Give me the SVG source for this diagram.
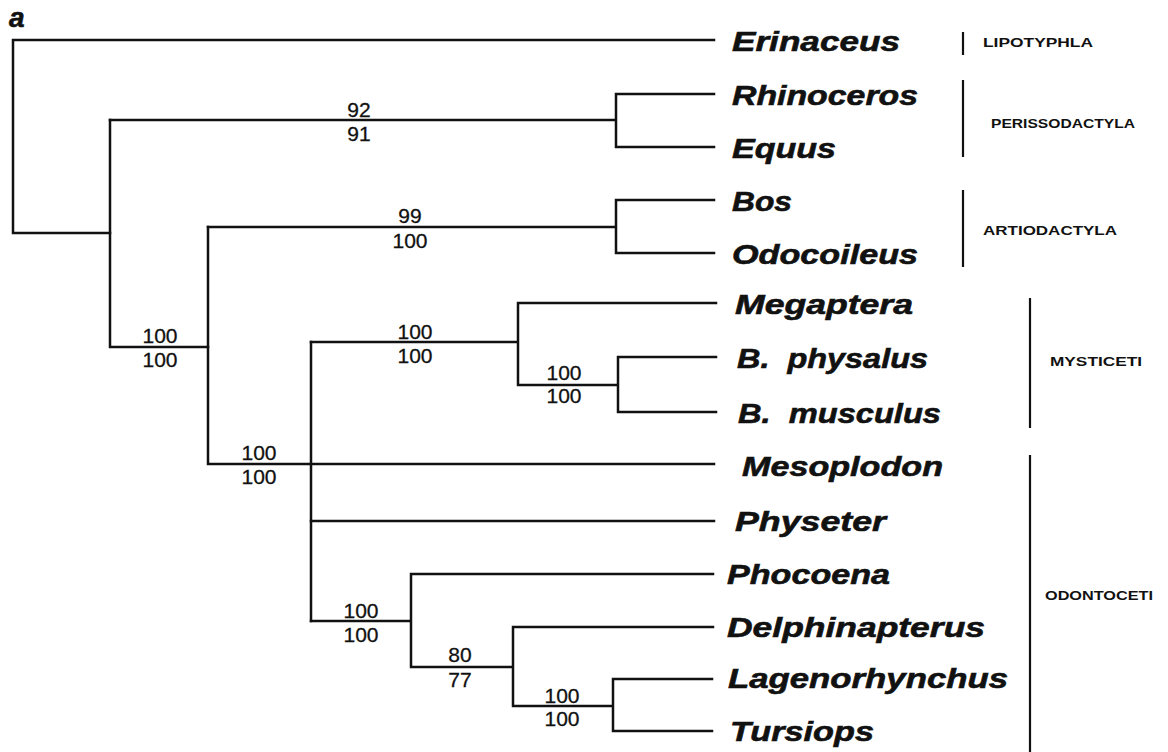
<svg xmlns="http://www.w3.org/2000/svg" width="1168" height="752" viewBox="0 0 1168 752">
<style>
.br{stroke:#111;stroke-width:2.5;fill:none;stroke-linecap:square}
.bar{stroke:#111;stroke-width:2.2;fill:none}
.leaf{font-family:"Liberation Sans",Arial,sans-serif;font-weight:bold;font-style:italic;font-size:28px;fill:#111;stroke:#111;stroke-width:0.6}
.sup{font-family:"Liberation Sans",Arial,sans-serif;font-size:21px;fill:#111;text-anchor:middle;stroke:#111;stroke-width:0.3}
.clade{font-family:"Liberation Sans",Arial,sans-serif;font-weight:bold;font-size:13px;fill:#111}
</style>
<rect width="1168" height="752" fill="#fff"/>
<text x="9" y="27" class="leaf">a</text>
<g id="connectors" class="br">
<path d="M714,40 H13 V233 H110"/>
<path d="M110,120 V347 H208"/>
<path d="M110,120 H616 M616,94 V147 M616,94 H714 M616,147 H714"/>
<path d="M208,227 V464 H714"/>
<path d="M208,227 H616 M616,200 V253 M616,200 H714 M616,253 H714"/>
<path d="M311,342 V621"/>
<path d="M311,342 H518 M518,303 V385 M518,303 H716 M518,385 H618 M618,357 V412 M618,357 H716 M618,412 H716"/>
<path d="M311,521 H714"/>
<path d="M311,621 H411 M411,574 V667 M411,574 H713 M411,667 H513 M513,627 V706 M513,627 H713 M513,706 H613 M613,679 V731 M613,679 H712 M613,731 H712"/>
</g>
<g id="support">
<text class="sup" x="359" y="117">92</text><text class="sup" x="359" y="141">91</text>
<text class="sup" x="410" y="223">99</text><text class="sup" x="410" y="248">100</text>
<text class="sup" x="160" y="343">100</text><text class="sup" x="160" y="367">100</text>
<text class="sup" x="259" y="460">100</text><text class="sup" x="259" y="484">100</text>
<text class="sup" x="415" y="339">100</text><text class="sup" x="415" y="363">100</text>
<text class="sup" x="564" y="380">100</text><text class="sup" x="564" y="403">100</text>
<text class="sup" x="361" y="618">100</text><text class="sup" x="361" y="642">100</text>
<text class="sup" x="460" y="662">80</text><text class="sup" x="460" y="687">77</text>
<text class="sup" x="562" y="703">100</text><text class="sup" x="562" y="726">100</text>
</g>
<g id="n-erinaceus"><text class="leaf" x="732" y="51" textLength="168" lengthAdjust="spacingAndGlyphs">Erinaceus</text></g>
<g id="n-rhinoceros"><text class="leaf" x="732" y="105" textLength="186" lengthAdjust="spacingAndGlyphs">Rhinoceros</text></g>
<g id="n-equus"><text class="leaf" x="732" y="158" textLength="104" lengthAdjust="spacingAndGlyphs">Equus</text></g>
<g id="n-bos"><text class="leaf" x="732" y="211" textLength="60" lengthAdjust="spacingAndGlyphs">Bos</text></g>
<g id="n-odocoileus"><text class="leaf" x="732" y="264" textLength="186" lengthAdjust="spacingAndGlyphs">Odocoileus</text></g>
<g id="n-megaptera"><text class="leaf" x="735" y="314" textLength="178" lengthAdjust="spacingAndGlyphs">Megaptera</text></g>
<g id="n-bphysalus"><text class="leaf" x="737" y="368" textLength="191" lengthAdjust="spacingAndGlyphs" xml:space="preserve">B.  physalus</text></g>
<g id="n-bmusculus"><text class="leaf" x="738" y="423" textLength="203" lengthAdjust="spacingAndGlyphs" xml:space="preserve">B.  musculus</text></g>
<g id="n-mesoplodon"><text class="leaf" x="742" y="476" textLength="201" lengthAdjust="spacingAndGlyphs">Mesoplodon</text></g>
<g id="n-physeter"><text class="leaf" x="735" y="531" textLength="151" lengthAdjust="spacingAndGlyphs">Physeter</text></g>
<g id="n-phocoena"><text class="leaf" x="727" y="584" textLength="163" lengthAdjust="spacingAndGlyphs">Phocoena</text></g>
<g id="n-delphinapterus"><text class="leaf" x="727" y="637" textLength="258" lengthAdjust="spacingAndGlyphs">Delphinapterus</text></g>
<g id="n-lagenorhynchus"><text class="leaf" x="728" y="688" textLength="280" lengthAdjust="spacingAndGlyphs">Lagenorhynchus</text></g>
<g id="n-tursiops"><text class="leaf" x="730" y="741" textLength="144" lengthAdjust="spacingAndGlyphs">Tursiops</text></g>
<g id="clade-lipotyphla"><path class="bar" d="M963,32 V55"/><text class="clade" x="983" y="47" textLength="110" lengthAdjust="spacingAndGlyphs">LIPOTYPHLA</text></g>
<g id="clade-perissodactyla"><path class="bar" d="M963,80 V157"/><text class="clade" x="991" y="128" textLength="144" lengthAdjust="spacingAndGlyphs">PERISSODACTYLA</text></g>
<g id="clade-artiodactyla"><path class="bar" d="M963,190 V267"/><text class="clade" x="983" y="235" textLength="134" lengthAdjust="spacingAndGlyphs">ARTIODACTYLA</text></g>
<g id="clade-mysticeti"><path class="bar" d="M1030,298 V428"/><text class="clade" x="1050" y="366" textLength="92" lengthAdjust="spacingAndGlyphs">MYSTICETI</text></g>
<g id="clade-odontoceti"><path class="bar" d="M1030,455 V752"/><text class="clade" x="1045" y="600" textLength="108" lengthAdjust="spacingAndGlyphs">ODONTOCETI</text></g>
</svg>
